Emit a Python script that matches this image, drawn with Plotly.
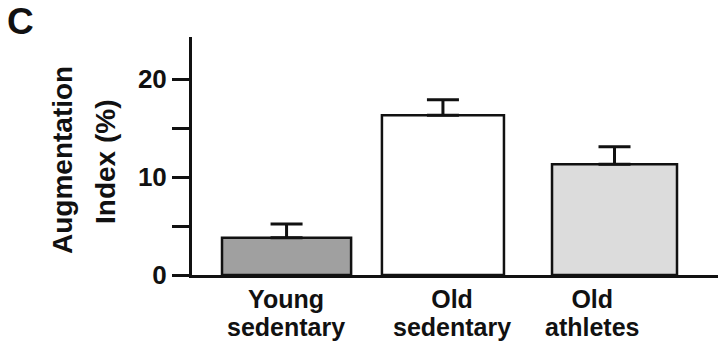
import plotly.graph_objects as go

# Augmentation index by group (mean and SEM, %)
groups = ["Young sedentary", "Old sedentary", "Old athletes"]
label_top = ["Young", "Old", "Old"]
label_bottom = ["sedentary", "sedentary", "athletes"]
aug_index = [3.8, 16.3, 11.3]
aug_sem = [1.4, 1.6, 1.8]
y_tickvals = [0, 5, 10, 15, 20]
y_ticktext = ["0", "", "10", "", "20"]

# Figure geometry (pixels)
W, H = 718, 341
L, R, T, B = 192, 0, 37, 66
PW, PH = W - L - R, H - T - B

def px_x(px):
    return (px - L) / PW

def px_y(py):
    return (H - B - py) / PH

FONT = "Liberation Sans, Arial, sans-serif"
INK = "#111111"
fills = ["#a0a0a0", "#ffffff", "#dcdcdc"]
bar_widths = [0.787, 0.744, 0.762]
bar_offsets = [-0.39, -0.415, -0.378]

fig = go.Figure()
fig.add_trace(go.Bar(
    x=groups,
    y=aug_index,
    width=bar_widths,
    offset=bar_offsets,
    marker=dict(color=fills, line=dict(color=INK, width=2.5)),
    error_y=dict(type="data", symmetric=False, array=aug_sem,
                 arrayminus=[0] * len(aug_sem),
                 color=INK, thickness=3, width=16),
    showlegend=False,
))

annotations = [
    dict(text="<b>C</b>", x=px_x(20.5), y=px_y(21.5), xref="paper", yref="paper",
         showarrow=False, xanchor="center", yanchor="middle",
         font=dict(family=FONT, size=37, color=INK)),
    dict(text="<b>Augmentation</b>", x=px_x(62), y=px_y(160), xref="paper", yref="paper",
         showarrow=False, xanchor="center", yanchor="middle", textangle=-90,
         font=dict(family=FONT, size=28, color=INK)),
    dict(text="<b>Index (%)</b>", x=px_x(105), y=px_y(162), xref="paper", yref="paper",
         showarrow=False, xanchor="center", yanchor="middle", textangle=-90,
         font=dict(family=FONT, size=28, color=INK)),
]

# Two-line group labels: the line pitch follows the annotation font size
# (21.5px -> ~28px pitch) while the glyphs are drawn at 25px.
label_shift = [0, 2, -22]
for g, top, bottom, dx in zip(groups, label_top, label_bottom, label_shift):
    span = "<span style='font-size:25px'><b>{}</b></span>"
    annotations.append(dict(
        text=span.format(top) + "<br>" + span.format(bottom),
        x=g, xref="x", y=px_y(312.5), yref="paper",
        xshift=dx, showarrow=False, xanchor="center", yanchor="middle",
        align="center", borderpad=0,
        font=dict(family=FONT, size=21.6, color=INK)))

fig.update_layout(
    width=W, height=H,
    margin=dict(l=L, r=R, t=T, b=B, pad=0),
    paper_bgcolor="white", plot_bgcolor="white",
    annotations=annotations,
    xaxis=dict(range=[-0.573, 2.634], showticklabels=False, ticks="",
               showline=True, linecolor=INK, linewidth=3,
               showgrid=False, zeroline=False, fixedrange=True),
    yaxis=dict(range=[0, 24.3], tickvals=y_tickvals, ticktext=y_ticktext,
               ticks="outside", ticklen=17, tickwidth=3, tickcolor=INK,
               tickfont=dict(family=FONT, size=26, color=INK, weight="bold"),
               showline=True, linecolor=INK, linewidth=3,
               showgrid=False, zeroline=False, fixedrange=True),
)

fig.write_html("out.html", config={"displayModeBar": False})
